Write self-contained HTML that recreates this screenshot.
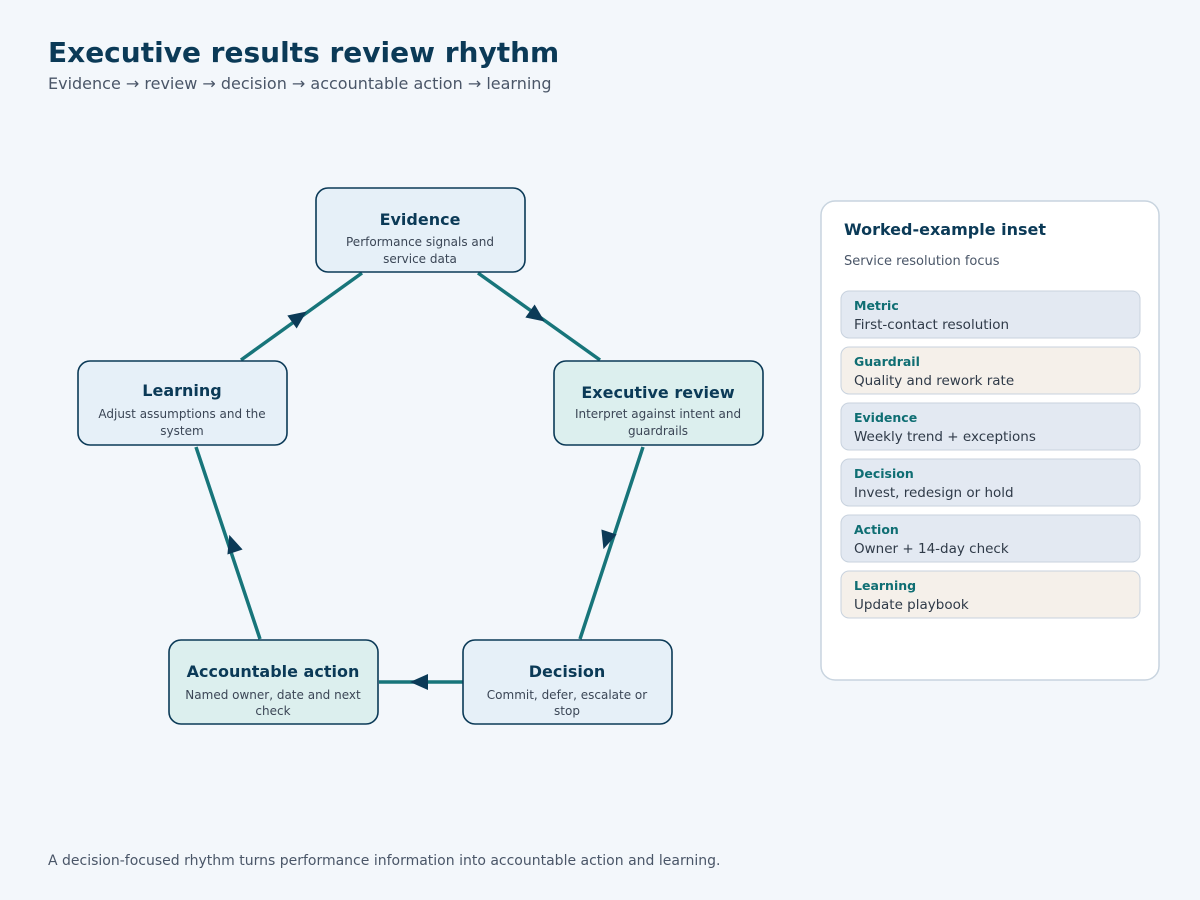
<!DOCTYPE html>
<html><head><meta charset="utf-8"><style>
body{margin:0;background:#f3f7fb;}
svg{display:block;font-family:"DejaVu Sans","Liberation Sans",sans-serif;}
</style></head><body>
<svg width="1200" height="900" viewBox="0 0 1200 900" xmlns="http://www.w3.org/2000/svg">
<rect width="1200" height="900" fill="#f3f7fb"/>
<text x="48" y="62" font-size="28" font-weight="bold" fill="#0b3a57">Executive results review rhythm</text>
<text x="48" y="89" font-size="16" fill="#4a5668">Evidence → review → decision → accountable action → learning</text>
<defs><marker id="a" viewBox="0 0 10 10" refX="5" refY="5" markerWidth="6" markerHeight="6" orient="auto" markerUnits="userSpaceOnUse"></marker></defs>
<g stroke="#17757a" stroke-width="3.5" fill="none">
<line x1="478" y1="273" x2="600" y2="360"/>
<line x1="643" y1="447" x2="580" y2="639"/>
<line x1="463" y1="682" x2="379" y2="682"/>
<line x1="260" y1="639" x2="196" y2="447"/>
<line x1="241" y1="360" x2="362" y2="273"/>
</g>
<g fill="#0b3a57">
<polygon points="0,-8 18,0 0,8" transform="translate(530,311) rotate(35.5)"/>
<polygon points="0,-8 18,0 0,8" transform="translate(609,532) rotate(108)"/>
<polygon points="0,-8 18,0 0,8" transform="translate(428,682) rotate(180)"/>
<polygon points="0,-8 18,0 0,8" transform="translate(235,552) rotate(251.5)"/>
<polygon points="0,-8 18,0 0,8" transform="translate(292,322) rotate(-35.7)"/>
</g>
<g stroke="#0b3a57" stroke-width="1.6">
<rect x="316" y="188" width="209" height="84" rx="12" fill="#e6f0f8"/>
<rect x="554" y="361" width="209" height="84" rx="12" fill="#dcefee"/>
<rect x="78" y="361" width="209" height="84" rx="12" fill="#e6f0f8"/>
<rect x="169" y="640" width="209" height="84" rx="12" fill="#dcefee"/>
<rect x="463" y="640" width="209" height="84" rx="12" fill="#e6f0f8"/>
</g>
<g text-anchor="middle">
<g font-size="16" font-weight="bold" fill="#0b3a57">
<text x="420" y="225">Evidence</text>
<text x="658" y="398">Executive review</text>
<text x="182" y="396">Learning</text>
<text x="273" y="677">Accountable action</text>
<text x="567" y="677">Decision</text>
</g>
<g font-size="12" fill="#3b4656">
<text x="420" y="246">Performance signals and</text><text x="420" y="263">service data</text>
<text x="658" y="418">Interpret against intent and</text><text x="658" y="435">guardrails</text>
<text x="182" y="418">Adjust assumptions and the</text><text x="182" y="435">system</text>
<text x="273" y="699">Named owner, date and next</text><text x="273" y="715">check</text>
<text x="567" y="699">Commit, defer, escalate or</text><text x="567" y="715">stop</text>
</g>
</g>
<rect x="821" y="201" width="338" height="479" rx="14" fill="#ffffff" stroke="#c8d4df" stroke-width="1.5"/>
<text x="844" y="235" font-size="16" font-weight="bold" fill="#0b3a57">Worked-example inset</text>
<text x="844" y="265" font-size="13" fill="#4a5668">Service resolution focus</text>
<g stroke="#c8d2de" stroke-width="1">
<rect x="841" y="291" width="299" height="47" rx="8" fill="#e3e9f2"/>
<rect x="841" y="347" width="299" height="47" rx="8" fill="#f5f0ea"/>
<rect x="841" y="403" width="299" height="47" rx="8" fill="#e3e9f2"/>
<rect x="841" y="459" width="299" height="47" rx="8" fill="#e3e9f2"/>
<rect x="841" y="515" width="299" height="47" rx="8" fill="#e3e9f2"/>
<rect x="841" y="571" width="299" height="47" rx="8" fill="#f5f0ea"/>
</g>
<g font-size="12.5" font-weight="bold" fill="#0f6e73">
<text x="854" y="310">Metric</text><text x="854" y="366">Guardrail</text><text x="854" y="422">Evidence</text>
<text x="854" y="478">Decision</text><text x="854" y="534">Action</text><text x="854" y="590">Learning</text>
</g>
<g font-size="13.5" fill="#2f3a48">
<text x="854" y="329">First-contact resolution</text><text x="854" y="385">Quality and rework rate</text>
<text x="854" y="441">Weekly trend + exceptions</text><text x="854" y="497">Invest, redesign or hold</text>
<text x="854" y="553">Owner + 14-day check</text><text x="854" y="609">Update playbook</text>
</g>
<text x="48" y="865" font-size="14" fill="#4a5668">A decision-focused rhythm turns performance information into accountable action and learning.</text>
</svg>
</body></html>
